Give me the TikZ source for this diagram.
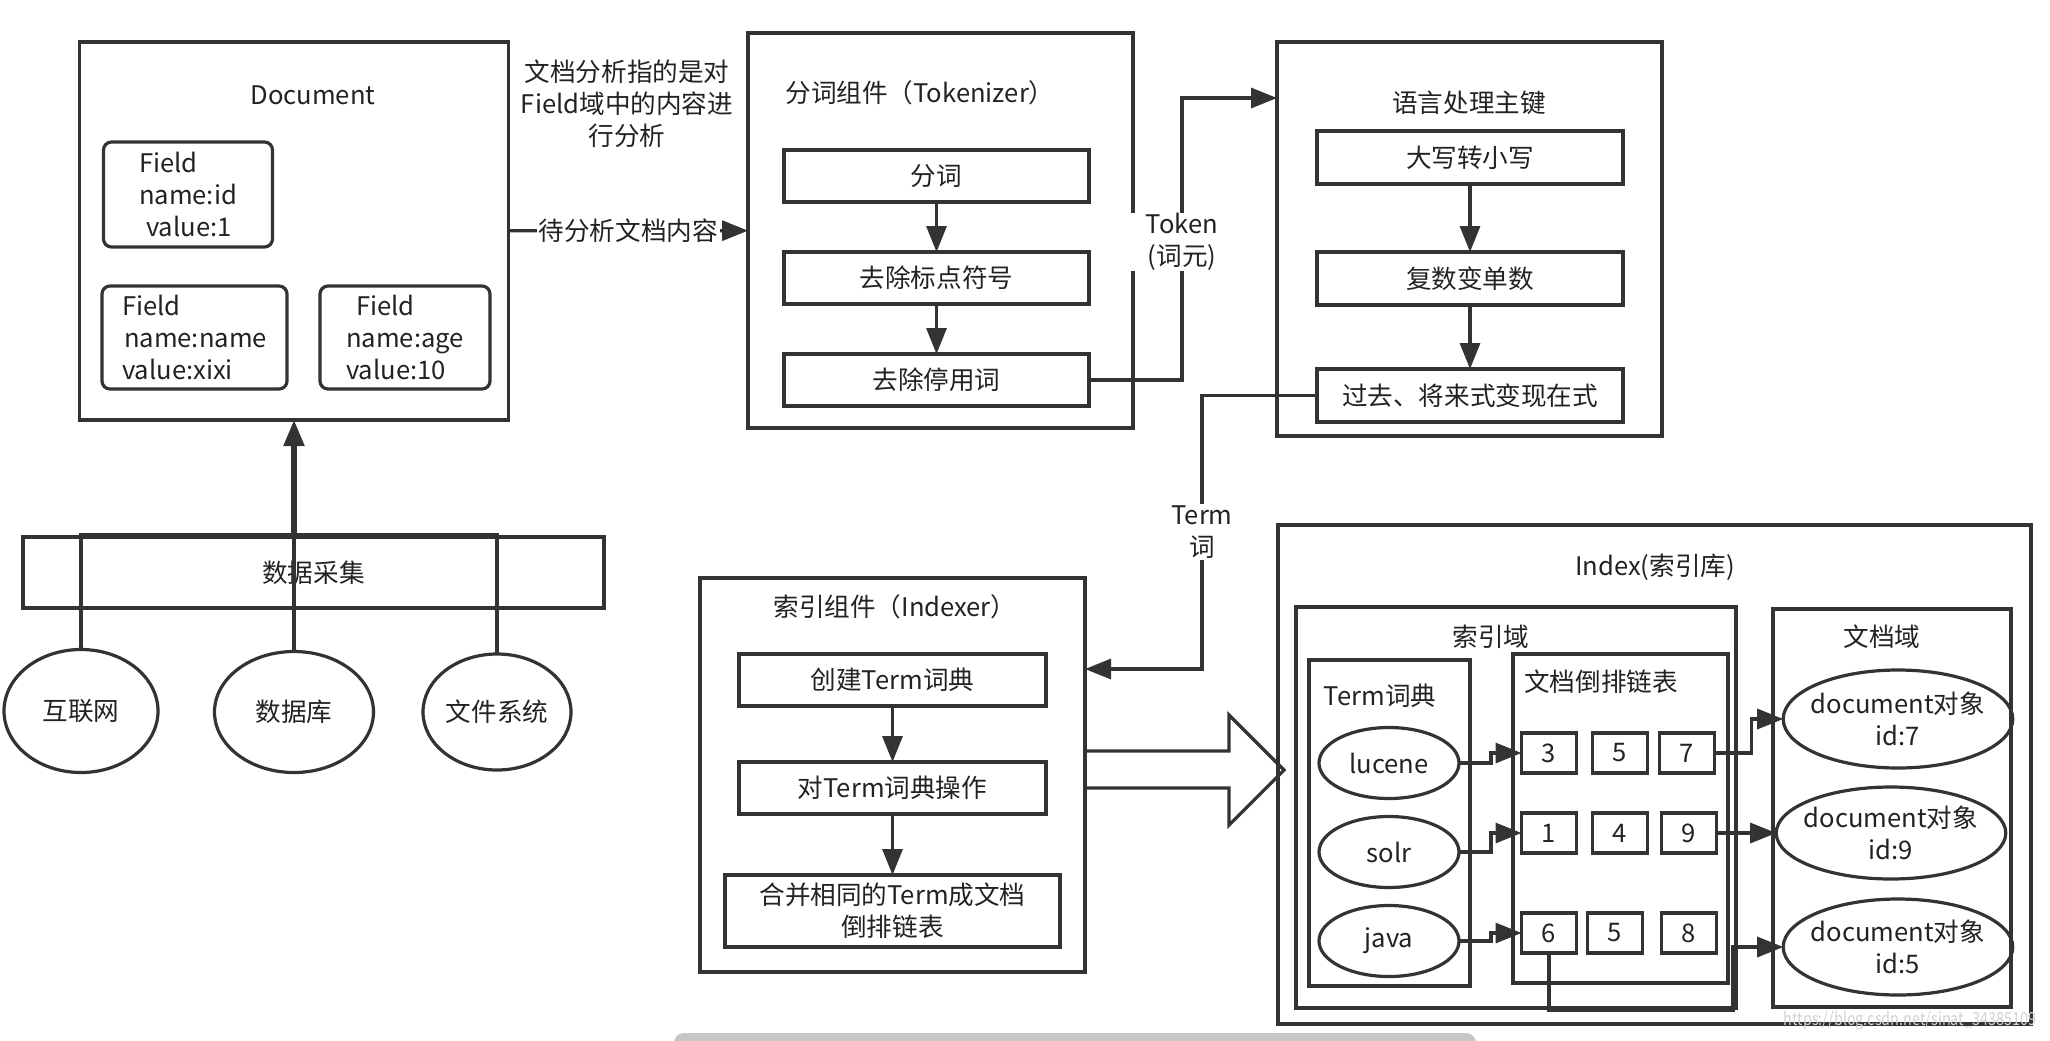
\documentclass[tikz,border=0pt]{standalone}
\usepackage{fontspec}
\setmainfont{Noto Sans CJK SC}
\usetikzlibrary{positioning,shapes.geometric,arrows.meta}
\definecolor{ink}{HTML}{333333}
\definecolor{txt}{HTML}{222222}

\tikzset{signal/.style={%
  ->,
  >={Triangle[length=13pt,width=10pt]},
  line width=1.6pt,
  draw=ink,
  }
}
\tikzset{wire/.style={%
  draw=ink,
  line width=1.6pt,
  }
}
\tikzset{panel/.style={%
  draw=ink,
  line width=1.6pt,
  inner sep=0pt,
  outer sep=0pt,
  anchor=center,
  }
}
\tikzset{stepbox/.style={%
  panel,
  minimum width=152.5pt,
  minimum height=26pt,
  }
}
\tikzset{field/.style={%
  panel,
  rounded corners=4pt,
  align=left,
  }
}
\tikzset{oval/.style={%
  panel,
  ellipse,
  inner sep=-3pt,
  align=center,
  }
}
\tikzset{cell/.style={%
  panel,
  minimum width=27.5pt,
  minimum height=20pt,
  }
}
\tikzset{tag/.style={%
  fill=white,
  align=center,
  inner sep=1pt,
  }
}

\begin{document}
\begin{tikzpicture}[x=0.5pt, y=-0.5pt, text=txt, font=\fontsize{12.8pt}{16pt}\selectfont]
  \useasboundingbox (0,0) rectangle (2050,1040);

  % document and fields
  \node (docbox) [panel, minimum width=214.5pt, minimum height=189pt] at (294,231) {};
  \node (doctitle) at (313,95) {Document};
  \node (fid) [field, minimum width=84.5pt, minimum height=52.5pt] at (188,194.5) {Field\\name:id\\\hspace*{3.5pt}value:1};
  \node (fname) [field, minimum width=92.5pt, minimum height=51.5pt] at (194.5,337.5) {Field\\\hspace*{1pt}name:name\\value:xixi};
  \node (fage) [field, minimum width=85pt, minimum height=51.5pt] at (405,337.5) {\hspace*{5pt}Field\\name:age\\value:10};
  \node (note) [align=center] at (627,104) {文档分析指的是对\\Field域中的内容进\\行分析};

  % data sources
  \node (collect) [panel, minimum width=290.5pt, minimum height=35.5pt] at (313.5,572.5) {数据采集};
  \node (net) [oval, minimum width=77pt, minimum height=61.5pt] at (81,711) {互联网};
  \node (db) [oval, minimum width=79.5pt, minimum height=60.5pt] at (294,712) {数据库};
  \node (fs) [oval, minimum width=74pt, minimum height=58pt] at (497,712) {文件系统};
  \coordinate (hub) at (294,535);

  \draw [wire] (net.north) |- (hub) -| (fs.north);
  \draw [wire] (db.north) -- (hub);
  \draw [signal, line width=2.6pt] (hub) -- (docbox.south);

  % tokenizer
  \node (tokbox) [panel, minimum width=192.5pt, minimum height=197.5pt] at (940.5,230.5) {};
  \node (toktitle) at (920,93) {分词组件（Tokenizer）};
  \node (tok1) [stepbox] at (936.5,176) {分词};
  \node (tok2) [stepbox, below=25pt of tok1] {去除标点符号};
  \node (tok3) [stepbox, below=25pt of tok2] {去除停用词};

  \draw [signal] (docbox) -- node[tag] (waittag) {待分析文档内容} (tokbox);
  \draw [signal] (tok1) -- (tok2);
  \draw [signal] (tok2) -- (tok3);

  % language processing
  \node (langbox) [panel, minimum width=192.5pt, minimum height=197pt] at (1469.5,239) {};
  \node (langtitle) at (1469,103) {语言处理主键};
  \node (lang1) [stepbox, minimum width=153pt, minimum height=26.5pt] at (1470,157.5) {大写转小写};
  \node (lang2) [stepbox, minimum width=153pt, minimum height=26.5pt, below=34pt of lang1] {复数变单数};
  \node (lang3) [stepbox, minimum width=153pt, minimum height=26.5pt, below=32pt of lang2] {过去、将来式变现在式};

  \draw [signal] (lang1) -- (lang2);
  \draw [signal] (lang2) -- (lang3);

  \coordinate (tokbend) at (1182,98);
  \draw [signal] (tok3.east) -| (tokbend) -- (tokbend -| langbox.west);
  \node (toktag) [tag, inner xsep=9pt, inner ysep=0pt] at (1182,242) {Token\\(词元)};

  % indexer
  \node (idxrbox) [panel, minimum width=192.5pt, minimum height=197pt] at (892.5,775) {};
  \node (idxrtitle) at (895,607) {索引组件（Indexer）};
  \node (idx1) [stepbox, minimum width=153.5pt] at (892.5,680) {创建Term词典};
  \node (idx2) [stepbox, minimum width=153.5pt, below=28pt of idx1] {对Term词典操作};
  \node (idx3) [stepbox, minimum width=167.5pt, minimum height=36pt, align=center, below=30.5pt of idx2] {合并相同的Term成文档\\倒排链表};

  \draw [signal] (idx1) -- (idx2);
  \draw [signal] (idx2) -- (idx3);

  \coordinate (termbend) at (1202,669);
  \draw [signal] (lang3.west) -| (termbend) -- (termbend -| idxrbox.east);
  \node (termtag) [tag] at (1202,532) {Term\\词};

  \draw [wire, line join=miter] (idxrbox.east) ++(0,-24) -- ++(144,0) -- ++(0,-36) -- ++(55,55) -- ++(-55,55) -- ++(0,-37) -- ++(-144,0);

  % index
  \node (indexbox) [panel, minimum width=376.5pt, minimum height=249.5pt] at (1654.5,774.5) {};
  \node (indextitle) at (1655,567) {Index(索引库)};
  \node (fieldzone) [panel, minimum width=220pt, minimum height=200.5pt] at (1516,807.5) {};
  \node (zonetitle) at (1491,637) {索引域};
  \node (docdomain) [panel, minimum width=119pt, minimum height=199pt] at (1892,808) {};
  \node (domaintitle) at (1882,637) {文档域};
  \node (termdict) [panel, minimum width=80.5pt, minimum height=163pt] at (1389.5,823) {};
  \node (dicttitle) at (1380,696) {Term词典};
  \node (postings) [panel, minimum width=107.5pt, minimum height=164.5pt] at (1620.5,818.5) {};
  \node (poststitle) at (1601,682) {文档倒排链表};

  \node (lucene) [oval, minimum width=70pt, minimum height=35.5pt] at (1389,763) {lucene};
  \node (solr) [oval, minimum width=70pt, minimum height=35.5pt, below=9pt of lucene] {solr};
  \node (java) [oval, minimum width=70pt, minimum height=35.5pt, below=9pt of solr] {java};

  \node (c3) [cell] at (1549,753) {3};
  \node (c5a) [cell] at (1620,753) {5};
  \node (c7) [cell] at (1687,753) {7};
  \node (c1) [cell] at (1549,833) {1};
  \node (c4) [cell] at (1620,833) {4};
  \node (c9) [cell] at (1689,833) {9};
  \node (c6) [cell] at (1549,933) {6};
  \node (c5b) [cell] at (1615,933) {5};
  \node (c8) [cell] at (1689,933) {8};

  \node (doc7) [oval, minimum width=110pt, minimum height=49pt] at (1898,719) {document对象\\id:7};
  \node (doc9) [oval, minimum width=111pt, minimum height=46pt] at (1891,833) {document对象\\id:9};
  \node (doc5) [oval, minimum width=110pt, minimum height=48pt] at (1898,947) {document对象\\id:5};

  \draw [signal] (lucene.east) -- ++(32,0) |- (c3.west);
  \draw [signal] (solr.east) -- ++(32,0) |- (c1.west);
  \draw [signal] (java.east) -- ++(32,0) |- (c6.west);
  \draw [signal] (c7.east) -- ++(37,0) |- (doc7.west);
  \draw [signal] (c9.east) -- (doc9.west);
  \coordinate (lowrun) at (1733,1010);
  \draw [signal] (c6.south) |- (lowrun) |- (doc5.west);

  \node (mark) [text=gray!35, font=\fontsize{9pt}{10pt}\selectfont, xscale=0.8, transform shape] at (1910,1021) {https://blog.csdn.net/sinat\_34385109};
  \fill [gray!45, rounded corners=5pt] (674,1033) rectangle (1476,1052);
\end{tikzpicture}
\end{document}
